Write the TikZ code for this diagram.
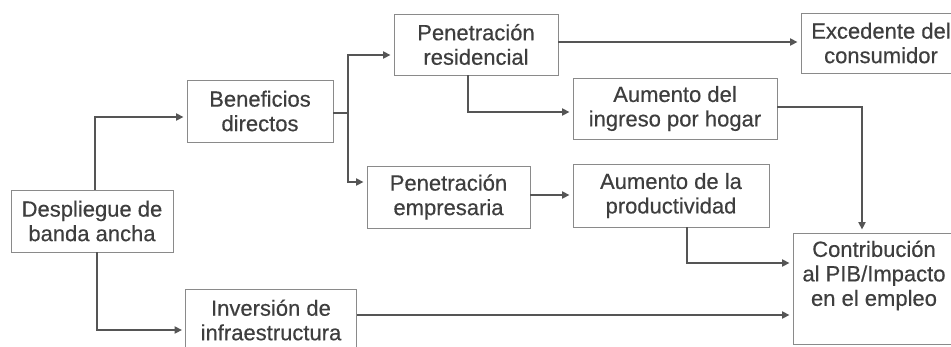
\documentclass[tikz,border=0pt]{standalone}
\usepackage{fontspec}
\setmainfont{Liberation Sans}
\newfontfamily\boxfont[FakeBold=0.4]{Liberation Sans}
\usetikzlibrary{arrows.meta}
\definecolor{txt}{HTML}{3E3E3E}
\definecolor{boxc}{HTML}{8A8A8A}
\definecolor{arrc}{HTML}{555555}
\begin{document}
\begin{tikzpicture}[x=1pt,y=-1pt,
  box/.style={draw=boxc,line width=0.9pt,align=center,inner sep=0pt,
    text=txt,font=\boxfont\fontsize{22}{24.5}\selectfont},
  arr/.style={draw=arrc,line width=2pt,-{Triangle[length=7.5pt,width=7pt]},shorten >=3pt}]
\clip (0,0) rectangle (951,346);
\fill[white] (0,0) rectangle (951,346);
% boxes
\node[box,minimum width=162pt,minimum height=62pt] (desp) at (92,221) {Despliegue de\\banda ancha};
\node[box,minimum width=146pt,minimum height=62pt] (benef) at (260,111) {Beneficios\\directos};
\node[box,minimum width=164pt,minimum height=61pt] (penres) at (476,44.5) {Penetración\\residencial};
\node[box,minimum width=163pt,minimum height=62pt] (penemp) at (448.5,197) {Penetración\\empresaria};
\node[box,minimum width=171pt,minimum height=61pt] (inv) at (271,320) {Inversión de\\infraestructura};
\node[box,minimum width=160pt,minimum height=60pt] (exc) at (881,43) {Excedente del\\consumidor};
\node[box,minimum width=204pt,minimum height=61pt] (aumi) at (675,108.5) {Aumento del\\ingreso por hogar};
\node[box,minimum width=196pt,minimum height=63pt] (aump) at (671,195.5) {Aumento de la\\productividad};
\node[box,minimum width=162pt,minimum height=111pt] (contr) at (874,288.5) {Contribución\\al PIB/Impacto\\en el empleo\\[6pt]\mbox{}};
% junction coordinates
\coordinate (c1) at (95,117);
\coordinate (c2) at (97,330);
\coordinate (j) at (348,113);
\coordinate (c3) at (348,55);
\coordinate (c4) at (348,182);
\coordinate (c5) at (468,112);
\coordinate (c6) at (862,107);
\coordinate (c7) at (687,263);
\coordinate (c8) at (0,315);
\coordinate (c9) at (0,42);
\coordinate (c10) at (0,195);
% connectors
\draw[arr] (desp.north -| c1) |- (benef.west |- c1);
\draw[arr] (desp.south -| c2) |- (inv.west |- c2);
\draw[arr] (benef.east |- j) -| (c3) -- (penres.west |- c3);
\draw[arr] (j) |- (penemp.west |- c4);
\draw[arr] (penres.east |- c9) -- (exc.west |- c9);
\draw[arr] (penres.south -| c5) |- (aumi.west |- c5);
\draw[arr] (aumi.east |- c6) -| (contr.north -| c6);
\draw[arr] (penemp.east |- c10) -- (aump.west |- c10);
\draw[arr] (aump.south -| c7) |- (contr.west |- c7);
\draw[arr] (inv.east |- c8) -- (contr.west |- c8);
\end{tikzpicture}
\end{document}
